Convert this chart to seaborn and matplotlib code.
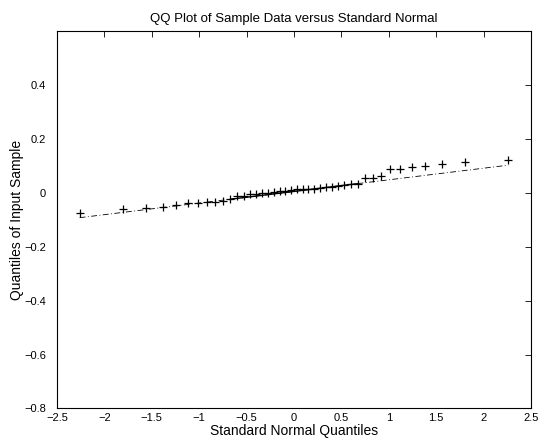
import numpy as np
import pandas as pd
import matplotlib
matplotlib.use("Agg")
import matplotlib.pyplot as plt
import seaborn as sns

normal_quantiles = [-2.261, -1.803, -1.559, -1.383, -1.242, -1.121, -1.016, -0.920,
                    -0.833, -0.751, -0.674, -0.601, -0.531, -0.464, -0.399, -0.334,
                    -0.272, -0.210, -0.150, -0.090, -0.030, 0.030, 0.090, 0.150,
                    0.210, 0.272, 0.334, 0.399, 0.464, 0.531, 0.601, 0.674,
                    0.751, 0.833, 0.920, 1.016, 1.121, 1.242, 1.383, 1.559,
                    1.803, 2.261]
# Sorted sample quantiles
sample_quantiles = [-0.075, -0.061, -0.056, -0.055, -0.047, -0.040, -0.038, -0.036,
                    -0.034, -0.031, -0.025, -0.012, -0.012, -0.007, -0.004, -0.002,
                    -0.001, 0.002, 0.004, 0.007, 0.009, 0.012, 0.012, 0.012,
                    0.014, 0.016, 0.019, 0.021, 0.025, 0.028, 0.030, 0.033,
                    0.053, 0.055, 0.061, 0.086, 0.088, 0.094, 0.098, 0.106,
                    0.114, 0.121]

title = "QQ Plot of Sample Data versus Standard Normal"
xlabel = "Standard Normal Quantiles"
ylabel = "Quantiles of Input Sample"
xticks = [-2.5, -2, -1.5, -1, -0.5, 0, 0.5, 1, 1.5, 2, 2.5]
xticklabels = ["\u22122.5", "\u22122", "\u22121.5", "\u22121", "\u22120.5", "0",
               "0.5", "1", "1.5", "2", "2.5"]
yticks = [-0.8, -0.6, -0.4, -0.2, 0, 0.2, 0.4]
yticklabels = ["\u22120.8", "\u22120.6", "\u22120.4", "\u22120.2", "0", "0.2", "0.4"]

sns.set_style("white")
plt.rcParams["font.family"] = ["Liberation Sans", "DejaVu Sans"]
plt.rcParams["text.color"] = "black"
plt.rcParams["axes.labelcolor"] = "black"

df = pd.DataFrame({"x": normal_quantiles, "y": sample_quantiles})

# reference line through first and third quartiles (MATLAB qqplot style)
xs = np.array(normal_quantiles)
ys = np.array(sample_quantiles)
n = len(ys)
i1 = int(round(0.25 * n + 0.5)) - 1
i3 = int(round(0.75 * n + 0.5)) - 1
q1x, q3x = xs[i1], xs[i3]
q1y, q3y = ys[i1], ys[i3]
slope = (q3y - q1y) / (q3x - q1x)
icpt = q1y - slope * q1x
solid = pd.DataFrame({"x": [q1x, q3x], "y": [q1y, q3y]})
dash = pd.DataFrame({"x": [xs[0], xs[-1]], "y": [icpt + slope * xs[0], icpt + slope * xs[-1]]})

fig = plt.figure(figsize=(5.51, 4.41), dpi=100)
ax = fig.add_axes([0.1034, 0.0737, 0.8603, 0.8571])

sns.lineplot(data=dash, x="x", y="y", ax=ax, color="black", linewidth=0.6,
             linestyle=(0, (7, 3, 1, 3)), sort=False)
sns.lineplot(data=solid, x="x", y="y", ax=ax, color="black", linewidth=1.0, sort=False)
sns.scatterplot(data=df, x="x", y="y", ax=ax, marker="+", color="black", s=30,
                linewidth=0.9, zorder=5)

ax.set_xlim(-2.5, 2.5)
ax.set_ylim(-0.8, 0.6)
ax.set_xticks(xticks)
ax.set_xticklabels(xticklabels)
ax.set_yticks(yticks)
ax.set_yticklabels(yticklabels)
ax.tick_params(direction="in", length=4, width=0.6, top=True, right=True,
               labelsize=8, colors="black")
ax.tick_params(axis="x", pad=3)
ax.tick_params(axis="y", pad=8)
for s in ax.spines.values():
    s.set_visible(True)
    s.set_color("black")
    s.set_linewidth(0.8)

ax.set_title(title, fontsize=9.5, pad=6, color="black")
ax.set_xlabel(xlabel, fontsize=10, labelpad=1, color="black")
ax.set_ylabel(ylabel, fontsize=10, labelpad=0, color="black")

fig.savefig("out.png", dpi=100)
